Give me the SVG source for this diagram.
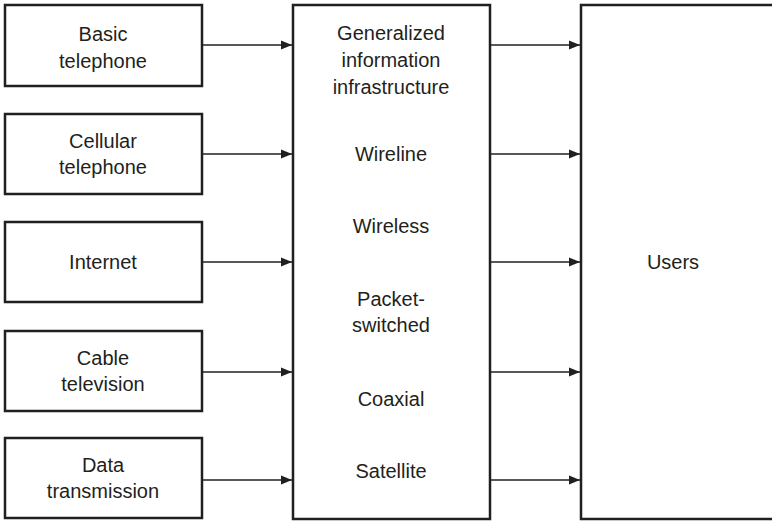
<svg xmlns="http://www.w3.org/2000/svg" width="772" height="521" viewBox="0 0 772 521">
<style>
.box{fill:#fff;stroke:#231f20;stroke-width:2.5}
.t{font-family:"Liberation Sans",Arial,sans-serif;font-size:20px;fill:#231f20;text-anchor:middle}
.c{stroke:#231f20;stroke-width:1.5;fill:none;marker-end:url(#ah)}
</style>
<defs>
<marker id="ah" markerUnits="userSpaceOnUse" markerWidth="12" markerHeight="10" refX="11" refY="5" orient="auto">
<path d="M0,0.5 L11,5 L0,9.5 Z" fill="#231f20"/>
</marker>
</defs>
<rect width="772" height="521" fill="#fff"/>
<g id="connectors">
<line class="c" x1="202" y1="45" x2="292" y2="45"/>
<line class="c" x1="202" y1="154" x2="292" y2="154"/>
<line class="c" x1="202" y1="262" x2="292" y2="262"/>
<line class="c" x1="202" y1="372" x2="292" y2="372"/>
<line class="c" x1="202" y1="480" x2="292" y2="480"/>
<line class="c" x1="490" y1="45" x2="580" y2="45"/>
<line class="c" x1="490" y1="154" x2="580" y2="154"/>
<line class="c" x1="490" y1="262" x2="580" y2="262"/>
<line class="c" x1="490" y1="372" x2="580" y2="372"/>
<line class="c" x1="490" y1="480" x2="580" y2="480"/>
</g>
<g id="basic">
<rect class="box" x="5" y="5" width="197" height="81"/>
<text class="t" x="103" y="41">Basic</text>
<text class="t" x="103" y="68">telephone</text>
</g>
<g id="cellular">
<rect class="box" x="5" y="114" width="197" height="80"/>
<text class="t" x="103" y="148">Cellular</text>
<text class="t" x="103" y="174">telephone</text>
</g>
<g id="internet">
<rect class="box" x="5" y="222" width="197" height="80"/>
<text class="t" x="103" y="269">Internet</text>
</g>
<g id="cable">
<rect class="box" x="5" y="331" width="197" height="80"/>
<text class="t" x="103" y="365">Cable</text>
<text class="t" x="103" y="391">television</text>
</g>
<g id="data">
<rect class="box" x="5" y="438" width="197" height="80"/>
<text class="t" x="103" y="472">Data</text>
<text class="t" x="103" y="498">transmission</text>
</g>
<g id="gii">
<rect class="box" x="293" y="5" width="197" height="514"/>
<text class="t" x="391" y="40">Generalized</text>
<text class="t" x="391" y="67">information</text>
<text class="t" x="391" y="94">infrastructure</text>
<text class="t" x="391" y="161">Wireline</text>
<text class="t" x="391" y="233">Wireless</text>
<text class="t" x="391" y="306">Packet-</text>
<text class="t" x="391" y="332">switched</text>
<text class="t" x="391" y="406">Coaxial</text>
<text class="t" x="391" y="478">Satellite</text>
</g>
<g id="users">
<rect class="box" x="581" y="5" width="200" height="514"/>
<text class="t" x="673" y="269">Users</text>
</g>
</svg>
